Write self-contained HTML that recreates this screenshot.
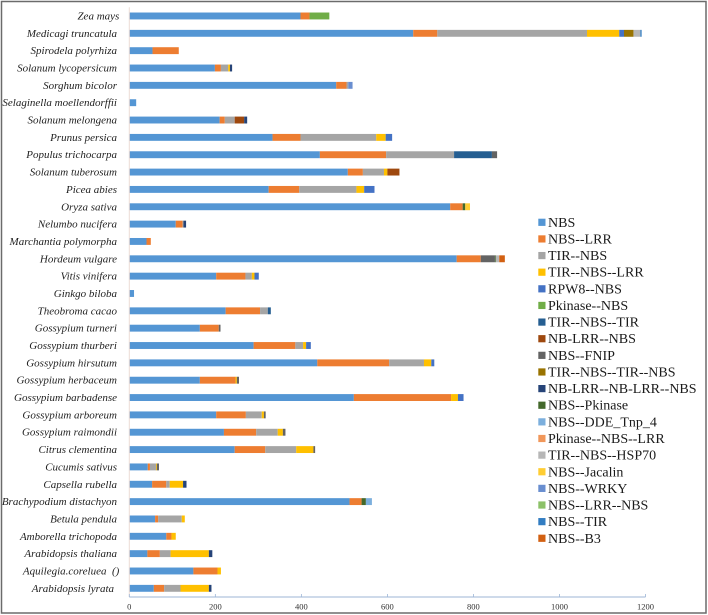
<!DOCTYPE html>
<html lang="en">
<head>
<meta charset="utf-8">
<title>NBS gene classes by species</title>
<style>
  html, body { margin: 0; padding: 0; background: #fff; width: 708px; height: 615px; overflow: hidden; }
  svg { display: block; font-family: "Liberation Serif", serif; filter: blur(0.35px); }
</style>
</head>
<body>
<svg id="chart" width="708" height="615" viewBox="0 0 708 615" xmlns="http://www.w3.org/2000/svg">
  <rect x="1.5" y="1.5" width="704.5" height="611.5" fill="#fff" stroke="#6b6b6b" stroke-width="1.5"/>
  <g id="bars"></g>
  <g id="axes"></g>
  <g id="legend"></g>
</svg>
<script>
const categories = ["Zea mays","Medicagi truncatula","Spirodela polyrhiza","Solanum lycopersicum","Sorghum bicolor","Selaginella moellendorffii","Solanum melongena","Prunus persica","Populus trichocarpa","Solanum tuberosum","Picea abies","Oryza sativa","Nelumbo nucifera","Marchantia polymorpha","Hordeum vulgare","Vitis vinifera","Ginkgo biloba","Theobroma cacao","Gossypium turneri","Gossypium thurberi","Gossypium hirsutum","Gossypium herbaceum","Gossypium barbadense","Gossypium arboreum","Gossypium raimondii","Citrus clementina","Cucumis sativus","Capsella rubella","Brachypodium distachyon","Betula pendula","Amborella trichopoda","Arabidopsis thaliana","Aquilegia.coreluea\u00a0\u00a0()","Arabidopsis lyrata"];
const xTicks = [0,200,400,600,800,1000,1200];
const seriesNames = ["NBS","NBS--LRR","TIR--NBS","TIR--NBS--LRR","RPW8--NBS","Pkinase--NBS","TIR--NBS--TIR","NB-LRR--NBS","NBS--FNIP","TIR--NBS--TIR--NBS","NB-LRR--NB-LRR--NBS","NBS--Pkinase","NBS--DDE_Tnp_4","Pkinase--NBS--LRR","TIR--NBS--HSP70","NBS--Jacalin","NBS--WRKY","NBS--LRR--NBS","NBS--TIR","NBS--B3"];
const seriesColors = ["#5496D4","#ED7D31","#A5A5A5","#FFC000","#4472C4","#70AD47","#255E91","#9E480E","#636363","#997300","#264478","#43682B","#7CAFDD","#F1975A","#B7B7B7","#FFCD33","#698ED0","#8CC168","#327DC2","#D26012"];
const nbs =        [398,660,54,199,481,16,210,333,443,508,324,746,108,40,761,202,11,224,164,289,437,164,522,202,220,245,43,53,512,60,86,42,149,57];
const nbsLrr =     [21,56,61,14,24,0,12,65,154,35,71,29,16,10,56,68,0,80,44,97,167,83,226,69,75,71,5,33,28,7,12,29,56,24];
const tirNbs =     [0,348,0,17,4,0,23,176,158,49,133,0,2,0,0,15,0,18,0,18,81,0,0,37,50,72,14,8,0,55,0,25,0,38];
const tirNbsLrr =  [0,75,0,4,0,0,0,22,0,8,18,0,0,0,0,6,0,0,0,7,17,3,16,5,12,40,2,31,0,7,10,89,8,66];
const rpw8Nbs =    [0,11,0,0,0,0,0,15,0,0,24,0,0,0,0,10,0,0,0,11,7,0,13,0,0,0,0,0,0,0,0,0,0,0];
const pkinaseNbs = [46,0,0,0,0,0,0,0,0,0,0,0,0,0,0,0,0,0,0,0,0,0,0,0,0,0,0,0,0,0,0,0,0,0];
const tirNbsTir =  [0,0,0,0,0,0,0,0,88,0,0,0,0,0,0,0,0,7,0,0,0,0,0,0,0,0,0,0,0,0,0,0,0,0];
const nbLrrNbs =   [0,0,0,0,0,0,22,0,0,28,0,0,0,0,0,0,0,0,0,0,0,0,0,0,0,0,0,0,0,0,0,0,0,0];
const nbsFnip =    [0,0,0,0,0,0,0,0,12,0,0,0,0,0,33,0,0,0,4,0,0,5,0,4,6,4,5,0,0,0,0,0,0,0];
const tirNbsTirNbs=[0,22,0,0,0,0,0,0,0,0,0,0,0,0,0,0,0,0,0,0,0,0,0,0,0,0,0,0,0,0,0,0,0,0];
const nbLrrNbLrr = [0,0,0,5,0,0,7,0,0,0,0,0,6,0,0,0,0,0,0,0,0,0,0,0,0,0,0,8,0,0,0,8,0,6];
const nbsPkinase = [0,0,0,0,0,0,0,0,0,0,0,6,0,0,2,0,0,0,0,0,0,0,0,0,0,0,0,0,10,0,0,0,0,0];
const nbsDde =     [0,0,0,0,0,0,0,0,0,0,0,0,0,0,0,0,0,0,0,0,0,0,0,0,0,0,0,0,14,0,0,0,0,0];
const pkinaseLrr = [0,0,0,0,0,0,0,0,0,0,0,0,0,0,0,0,0,0,0,0,0,0,0,0,0,0,0,0,0,0,0,0,0,0];
const tirHsp70 =   [0,16,0,0,0,0,0,0,0,0,0,0,0,0,8,0,0,0,0,0,0,0,0,0,0,0,0,0,0,0,0,0,0,0];
const nbsJacalin = [0,0,0,0,0,0,0,0,0,0,0,11,0,0,0,0,0,0,0,0,0,0,0,0,0,0,0,0,0,0,0,0,0,0];
const nbsWrky =    [0,0,0,0,10,0,0,0,0,0,0,0,0,0,0,0,0,0,0,0,0,0,0,0,0,0,0,0,0,0,0,0,0,0];
const nbsLrrNbs =  [0,0,0,0,0,0,0,0,0,0,0,0,0,0,0,0,0,0,0,0,0,0,0,0,0,0,0,0,0,0,0,0,0,0];
const nbsTir =     [0,3,0,0,0,0,0,0,0,0,0,0,0,0,0,0,0,0,0,0,0,0,0,0,0,0,0,0,0,0,0,0,0,0];
const nbsB3 =      [0,0,0,0,0,0,0,0,0,0,0,0,0,0,13,0,0,0,0,0,0,0,0,0,0,0,0,0,0,0,0,0,0,0];
const seriesValues = [nbs,nbsLrr,tirNbs,tirNbsLrr,rpw8Nbs,pkinaseNbs,tirNbsTir,nbLrrNbs,nbsFnip,tirNbsTirNbs,nbLrrNbLrr,nbsPkinase,nbsDde,pkinaseLrr,tirHsp70,nbsJacalin,nbsWrky,nbsLrrNbs,nbsTir,nbsB3];

const NS = "http://www.w3.org/2000/svg";
const plotLeft = 129.3, plotRight = 645.5, plotTop = 7.3, plotBottom = 597;
const xMax = xTicks[xTicks.length - 1];
function xScale(v) { return plotLeft + (v / xMax) * (plotRight - plotLeft); }
function bandCenter(i) { return plotTop + (i + 0.5) * (plotBottom - plotTop) / categories.length; }
function make(tag, attrs, parent, text) {
  const el = document.createElementNS(NS, tag);
  for (const k in attrs) el.setAttribute(k, attrs[k]);
  if (text !== undefined) el.textContent = text;
  parent.appendChild(el);
  return el;
}
function slug(s) { return s.toLowerCase().replace(/[^a-z0-9]+/g, '-').replace(/^-|-$/g, ''); }
function labelRight(cat) {
  if (cat === "Zea mays" || cat.indexOf("Aquilegia") === 0) return 119.3;
  if (cat === "Arabidopsis lyrata") return 114;
  return 117;
}

const barsG = document.getElementById('bars');
const axesG = document.getElementById('axes');
const legendG = document.getElementById('legend');
const barHeight = 6.9;

categories.forEach(function (cat, i) {
  let cum = 0;
  seriesValues.forEach(function (vals, s) {
    const v = vals[i];
    if (!v) return;
    const r = make('rect', { x: xScale(cum), y: bandCenter(i) - barHeight / 2, width: xScale(cum + v) - xScale(cum), height: barHeight, fill: seriesColors[s] }, barsG);
    
    
    cum += v;
  });
  const label = make('text', { x: labelRight(cat), y: bandCenter(i) + 3.5, 'text-anchor': 'end', 'font-size': 11, 'font-style': 'italic', fill: '#222' }, axesG, cat);
  
  
});

const yAxis = make('line', { x1: plotLeft, x2: plotLeft, y1: plotTop, y2: plotBottom, stroke: '#ecdcd6', 'stroke-width': 1 }, axesG);


const xAxis = make('line', { x1: plotLeft, x2: plotRight, y1: plotBottom, y2: plotBottom, stroke: '#9db5d6', 'stroke-width': 1 }, axesG);



xTicks.forEach(function (t) {
  const tick = make('line', { x1: xScale(t), x2: xScale(t), y1: plotBottom - 3, y2: plotBottom, stroke: '#9db5d6', 'stroke-width': 0.8 }, axesG);
  
  
  const tl = make('text', { x: xScale(t), y: 609.5, 'text-anchor': 'middle', 'font-size': 8.5, fill: '#333' }, axesG, String(t));
  
  
});

seriesNames.forEach(function (name, s) {
  const y = 222.3 + s * 16.63;
  const swatch = make('rect', { x: 538.3, y: y - 3.6, width: 7.2, height: 7.2, fill: seriesColors[s] }, legendG);
  
  
  const text = make('text', { x: 548, y: y + 4.5, 'font-size': 14, fill: '#1a1a1a' }, legendG, name);
  
  
});
</script>
</body>
</html>
